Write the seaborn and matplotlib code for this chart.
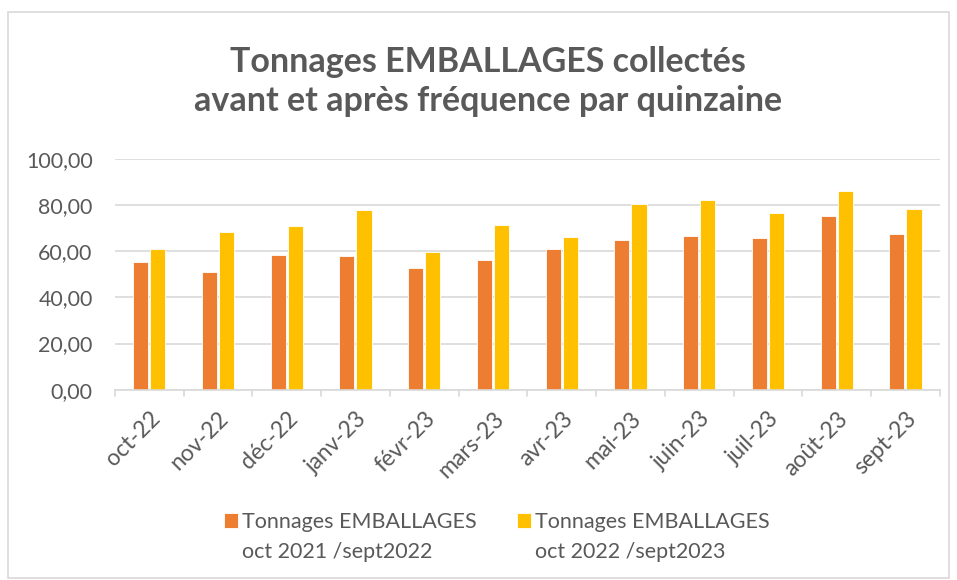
import matplotlib
matplotlib.use("Agg")
import matplotlib.pyplot as plt
import pandas as pd
import seaborn as sns
from matplotlib.patches import Rectangle

months = ['oct-22', 'nov-22', 'déc-22', 'janv-23', 'févr-23', 'mars-23',
          'avr-23', 'mai-23', 'juin-23', 'juil-23', 'août-23', 'sept-23']
tonnages_2122 = [55.3, 51.2, 58.5, 57.9, 52.7, 56.2, 61.0, 64.9, 66.5, 65.6, 75.3, 67.6]
tonnages_2223 = [60.8, 68.4, 70.8, 77.7, 59.7, 71.2, 66.3, 80.3, 82.1, 76.6, 86.3, 78.3]
series_names = ['Tonnages EMBALLAGES', 'Tonnages EMBALLAGES ']
series_periods = ['oct 2021 /sept2022', 'oct 2022 /sept2023']
yticks = [0, 20, 40, 60, 80, 100]

df = pd.DataFrame({
    'mois': months * 2,
    'tonnage': tonnages_2122 + tonnages_2223,
    'periode': [series_names[0]] * len(months) + [series_names[1]] * len(months),
})

sns.set_style('white')
plt.rcParams['font.family'] = ['Lato', 'DejaVu Sans']
grey = '#595959'

fig = plt.figure(figsize=(9.57, 5.80), dpi=100)
ax = fig.add_axes([0.120, 0.328, 0.862, 0.398])

sns.barplot(data=df, x='mois', y='tonnage', hue='periode', order=months,
            palette=['#ED7D31', '#FFC000'], saturation=1, width=0.5, gap=0.12,
            edgecolor='white', linewidth=0.6, ax=ax)

ax.set_ylim(0, 100)
ax.set_yticks(yticks)
ax.set_yticklabels([f'{v:.2f}'.replace('.', ',') for v in yticks], color=grey, fontsize=15.4)
ax.yaxis.grid(True, color='#D9D9D9', linewidth=1.2)
ax.set_axisbelow(True)
ax.set_xlim(-0.5, len(months) - 0.5)
ax.set_xlabel('')
ax.set_ylabel('')
ax.tick_params(axis='y', length=0, pad=16)
ax.tick_params(axis='x', length=0, pad=13)
plt.setp(ax.get_xticklabels(), rotation=45, ha='right', rotation_mode='anchor',
         color=grey, fontsize=16.5)
for s in ['top', 'right', 'left']:
    ax.spines[s].set_visible(False)
ax.spines['bottom'].set_color('#D9D9D9')
ax.spines['bottom'].set_linewidth(1.2)
# small category separators on the x axis
for i in range(len(months) + 1):
    ax.plot([i - 0.5, i - 0.5], [0, -2.5], color='#D9D9D9', lw=1.2, clip_on=False)

fig.text(0.51, 1 - 81.5 / 580, 'Tonnages EMBALLAGES collectés\navant et après fréquence par quinzaine',
         ha='center', va='center', fontsize=24.5, fontweight='bold', color=grey, linespacing=1.28)

ax.get_legend().remove()
handles, labels = ax.get_legend_handles_labels()
leg = fig.legend(handles, labels, loc='center left', bbox_to_anchor=(224 / 957, 1 - 522 / 580),
                 ncol=2, frameon=False, fontsize=15.5, borderpad=0, borderaxespad=0,
                 handlelength=0.65, handleheight=0.65, handletextpad=0.2,
                 columnspacing=1.87, labelcolor=grey)

# second line of each legend label, under the first one
fig.canvas.draw()
for t, period in zip(leg.get_texts(), series_periods):
    bb = t.get_window_extent().transformed(fig.transFigure.inverted())
    fig.text(bb.x0, bb.y0 - 0.018, period, ha='left', va='top', fontsize=15.5, color=grey)

fig.patches.append(Rectangle((0.008, 0.004), 0.984, 0.975, transform=fig.transFigure,
                             fill=False, edgecolor='#D9D9D9', linewidth=1.2))

fig.savefig('out.png', dpi=100)
